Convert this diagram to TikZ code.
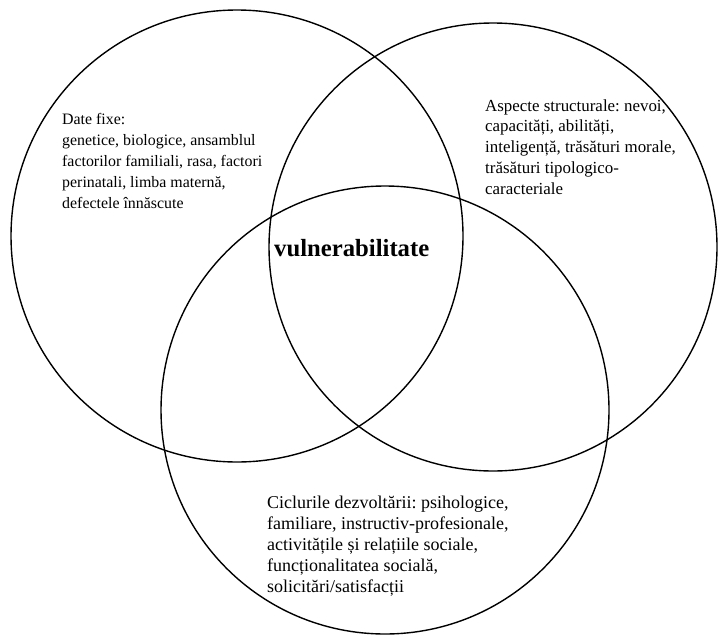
\documentclass[tikz,border=0pt]{standalone}
\usepackage{fontspec}
\setmainfont{Liberation Serif}
\usetikzlibrary{calc}
\frenchspacing

\begin{document}
\begin{tikzpicture}[x = 1pt, y = -1pt, every node/.style = {inner sep = 0pt, font = \fontsize{16.9}{20.7}\selectfont}]
	\useasboundingbox (0,0) rectangle (719,634);
	\coordinate (L) at (237,236);
	\coordinate (R) at (493,247);
	\coordinate (B) at (385,410);
	\draw[line width = 1.4pt] (L) circle[radius = 226];
	\draw[line width = 1.4pt] (R) circle[radius = 224];
	\draw[line width = 1.4pt] (B) circle[radius = 224];
	\node[anchor = base west, align = left, font = \fontsize{15.9}{21}\selectfont] (fixe) at (62,208) {Date fixe:\\ genetice, biologice, ansamblul\\ factorilor familiali, rasa, factori\\ perinatali, limba maternă,\\ defectele înnăscute};
	\node[anchor = base west, align = left] (aspecte) at (485,194) {Aspecte structurale: nevoi,\\ capacități, abilități,\\ inteligență, trăsături morale,\\ trăsături tipologico-\\ caracteriale};
	\node[anchor = base west, align = left, font = \fontsize{18}{21}\selectfont] (cicluri) at (267,592) {Ciclurile dezvoltării: psihologice,\\ familiare, instructiv-profesionale,\\ activitățile și relațiile sociale,\\ funcționalitatea socială,\\ solicitări/satisfacții};
	\node[anchor = base west, font = \fontsize{24.7}{28}\selectfont\bfseries] (vuln) at (274,256) {vulnerabilitate};
\end{tikzpicture}
\end{document}
